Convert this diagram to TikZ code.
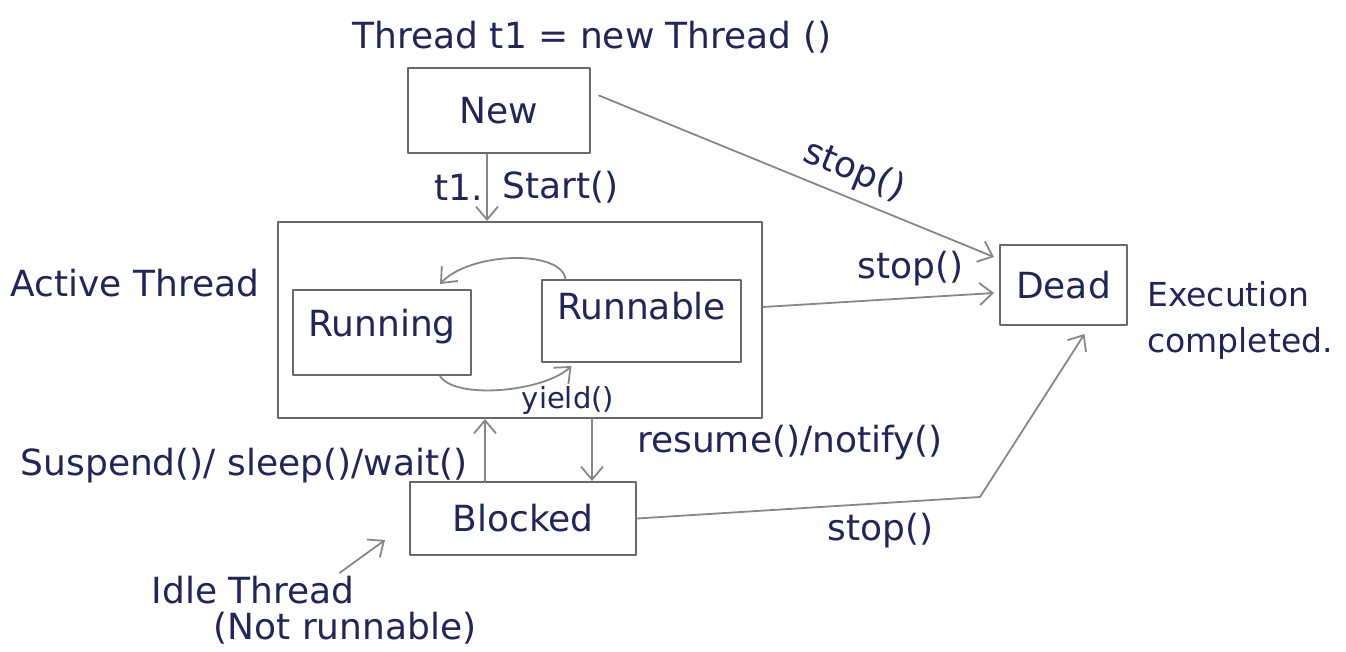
\documentclass[tikz,border=0pt]{standalone}
\usepackage{fontspec}
\setmainfont{DejaVu Sans}
\usetikzlibrary{arrows.meta}
\definecolor{ink}{RGB}{34,36,92}
\definecolor{pencil}{RGB}{105,105,105}
\definecolor{lead}{RGB}{135,135,135}
\begin{document}
\begin{tikzpicture}[x=1pt,y=-1pt,line cap=round,line join=round,
  box/.style={draw=pencil,line width=2pt,inner sep=0pt,text=ink,
    font=\fontsize{36}{42}\selectfont},
  hand/.style={text=ink,font=\fontsize{36}{46}\selectfont,inner sep=3pt},
  small/.style={text=ink,font=\fontsize{29}{34}\selectfont,inner sep=2pt},
  link/.style={draw=lead,line width=1.8pt},
  arr/.style={link,-{Straight Barb[length=13pt,width=22pt,line width=1.8pt]}}]
\useasboundingbox (0,0) rectangle (1346,652);
\node[hand] (title) at (592,37) {Thread t1 = new Thread ()};
\node[box,minimum width=182pt,minimum height=85pt] (new) at (499,110.5) {New};
\node[box,minimum width=484pt,minimum height=196pt] (active) at (520,320) {};
\node[box,minimum width=178pt,minimum height=85pt,text depth=20pt] (running) at (382,332.5) {Running};
\node[box,minimum width=199pt,minimum height=82pt,text depth=30pt] (runnable) at (641.5,321) {Runnable};
\node[box,minimum width=226pt,minimum height=73pt] (blocked) at (523,518.5) {Blocked};
\node[box,minimum width=127pt,minimum height=80pt] (dead) at (1063.5,285) {Dead};
\node[hand] (activelbl) at (135,283) {Active Thread};
\node[small] (yield) at (568,400) {yield()};
\node[hand] (suspend) at (244,466) {Suspend()/ sleep()/wait()};
\node[hand] (resume) at (790,443) {resume()/notify()};
\node[hand,font=\fontsize{33}{46}\selectfont,anchor=west,align=left] (done) at (1144,320) {Execution\\completed.};
\node[hand] (idle) at (253,590) {Idle Thread};
\node[hand] (notrun) at (345,628) {(Not runnable)};
\coordinate (bend) at (980,497);
\coordinate (idletip) at (385,540);

% start
\draw[arr] ([xshift=-12pt]new.south) -- ([xshift=-12pt]new.south |- active.north)
  node[hand,midway,left] {t1.} node[hand,midway,right,xshift=12pt] {Start()};
% running <-> runnable
\draw[arr] ([xshift=-76pt]runnable.north) .. controls +(-5,-30) and +(30,-32) .. ([xshift=58pt,yshift=5pt]running.north);
\draw[arr] ([xshift=58pt]running.south) .. controls +(15,24) and +(-28,26) .. ([xshift=-70pt,yshift=-3pt]runnable.south);
% blocked <-> active
\draw[arr] ([xshift=-38pt]blocked.north) -- ([xshift=-38pt]blocked.north |- active.south);
\draw[arr] ([xshift=69pt]blocked.north |- active.south) -- ([xshift=69pt]blocked.north);
% stop() to dead
\draw[arr] ([xshift=8pt,yshift=15pt]new.east) -- ([xshift=-5pt,yshift=-13pt]dead.north west)
  node[hand,pos=.62,above=5pt,sloped] {stop()};
\draw[arr] ([yshift=13pt]active.east) -- ([xshift=-5pt,yshift=-8pt]dead.west)
  node[hand,pos=.64,above=8pt] {stop()};
\draw[arr] (blocked.east) -- (bend) node[hand,pos=.71,below=6pt] {stop()}
  -- ([xshift=21pt,yshift=-8pt]dead.south);
% idle
\draw[arr] ([xshift=-18pt]idle.north east) -- (idletip);
\end{tikzpicture}
\end{document}
